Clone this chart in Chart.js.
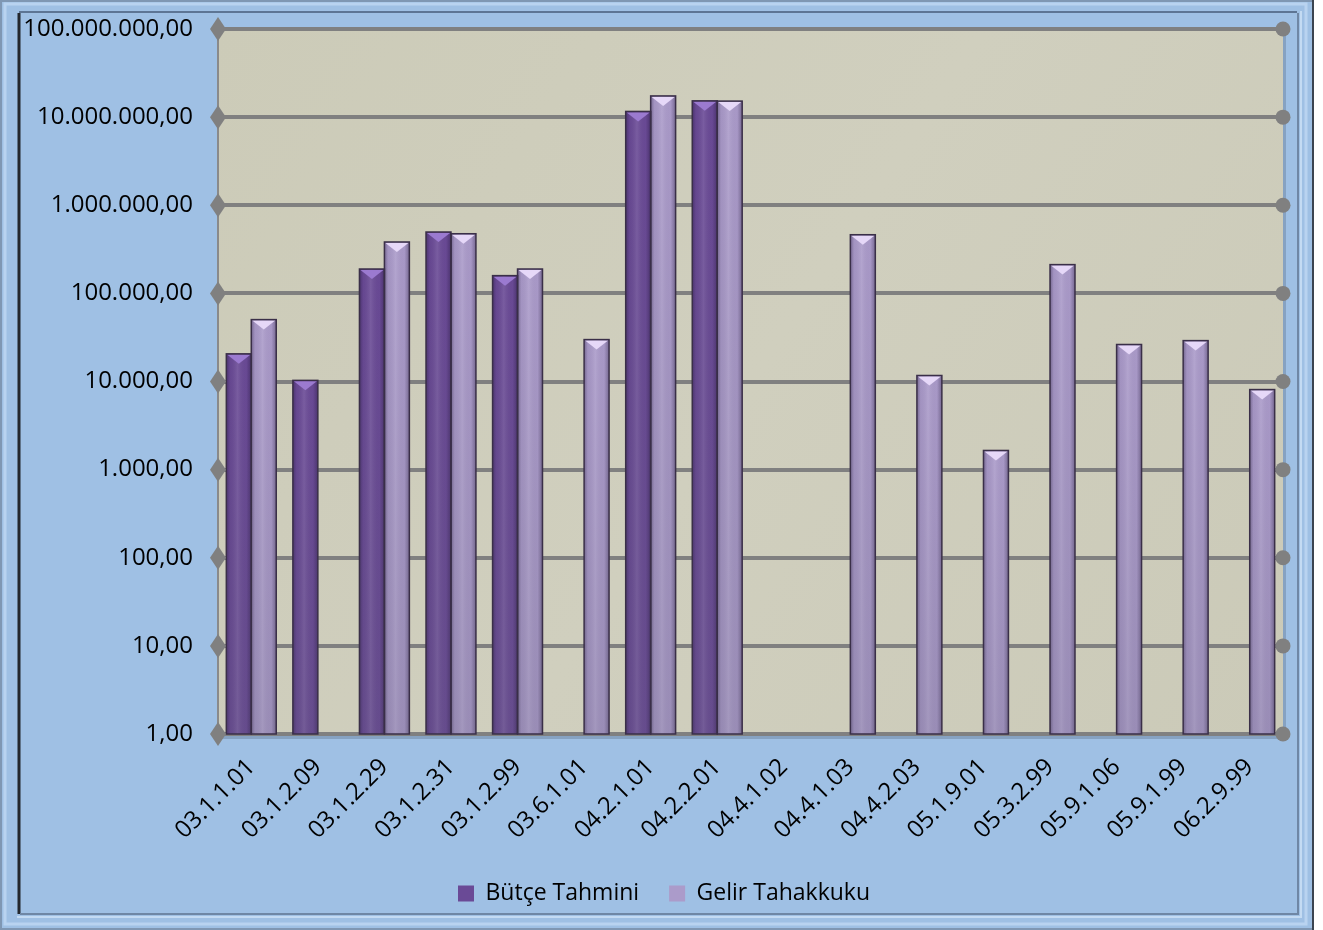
<!DOCTYPE html>
<html>
<head>
<meta charset="utf-8">
<title>Bütçe Tahmini / Gelir Tahakkuku</title>
<script src="https://cdn.jsdelivr.net/npm/chart.js@4.4.1/dist/chart.umd.min.js"></script>
<style>
  html, body { margin: 0; padding: 0; background: #ffffff; }
  #wrap { width: 1323px; height: 930px; }
</style>
</head>
<body>
<div id="wrap"><canvas id="gelirChart" width="1323" height="930"></canvas></div>
<script>
// Data
const categories = [
    '03.1.1.01', '03.1.2.09', '03.1.2.29', '03.1.2.31', '03.1.2.99', '03.6.1.01',
    '04.2.1.01', '04.2.2.01', '04.4.1.02', '04.4.1.03', '04.4.2.03', '05.1.9.01',
    '05.3.2.99', '05.9.1.06', '05.9.1.99', '06.2.9.99'
];
const budgetValues = [
    20600, 10300, 189000, 497000, 159000, null,
    11600000, 15300000, null, null, null, null,
    null, null, null, null
];
const accrualValues = [
    50400, null, 383000, 475000, 189000, 29900,
    17400000, 15200000, null, 463000, 11700, 1650,
    212000, 26300, 29100, 8100
];
const tickValues = [1, 10, 100, 1000, 10000, 100000, 1000000, 10000000, 100000000];
const tickLabels = [
    '1,00', '10,00', '100,00', '1.000,00', '10.000,00', '100.000,00',
    '1.000.000,00', '10.000.000,00', '100.000.000,00'
];

const FONT = "'Open Sans', 'Noto Sans', sans-serif";

// Blue chart area with bevelled frame + beige plot area
const backgroundPlugin = {
    id: 'chartBackground',
    afterLayout: function (chart) {
        // legend in the reference sits a bit right of the canvas centre
        chart.legend.left = 45;
    },
    beforeDraw: function (chart) {
        const c = chart.ctx;
        const a = chart.chartArea;
        c.save();
        c.fillStyle = '#ffffff';
        c.fillRect(0, 0, chart.width, chart.height);
        c.fillStyle = '#9fc0e4';
        c.fillRect(0, 0, 1314, 930);
        // outer edge
        c.strokeStyle = '#7f97b3';
        c.lineWidth = 2;
        c.strokeRect(1, 1, 1312, 928);
        c.strokeStyle = '#3b4450';
        c.beginPath();
        c.moveTo(1313, 0); c.lineTo(1313, 930);
        c.stroke();
        // inner bevel
        c.strokeStyle = '#b9d3f0';
        c.lineWidth = 3;
        c.strokeRect(5, 4, 1301, 920);
        c.strokeStyle = '#23272d';
        c.lineWidth = 3;
        c.beginPath();
        c.moveTo(19, 914); c.lineTo(19, 13);
        c.stroke();
        c.strokeStyle = '#5d7594';
        c.lineWidth = 2;
        c.beginPath();
        c.moveTo(19, 12); c.lineTo(1297, 12);
        c.stroke();
        c.strokeStyle = '#6f87a5';
        c.lineWidth = 2;
        c.beginPath();
        c.moveTo(20, 914); c.lineTo(1298, 914); c.lineTo(1298, 13);
        c.stroke();
        c.strokeStyle = '#c4dbf3';
        c.lineWidth = 2;
        c.beginPath();
        c.moveTo(17, 917); c.lineTo(1301, 917); c.lineTo(1301, 11);
        c.stroke();
        // plot shadow + beige plot area
        c.fillStyle = 'rgba(60, 70, 90, 0.25)';
        c.fillRect(a.left + 3, a.top + 3, a.right - a.left, a.bottom - a.top + 2);
        const g = c.createLinearGradient(a.left, a.top, a.right, a.bottom);
        g.addColorStop(0, '#cccbb8');
        g.addColorStop(0.5, '#d0cfbe');
        g.addColorStop(1, '#cbcab8');
        c.fillStyle = g;
        c.fillRect(a.left, a.top, a.right - a.left, a.bottom - a.top);
        c.restore();
    }
};

// Bevelled, shaded bars drawn on top of the library's bar elements
const barShadePlugin = {
    id: 'barShade',
    afterDatasetsDraw: function (chart) {
        const c = chart.ctx;
        chart.data.datasets.forEach(function (ds, i) {
            const meta = chart.getDatasetMeta(i);
            meta.data.forEach(function (bar, j) {
                if (ds.data[j] == null) return;
                const p = bar.getProps(['x', 'y', 'base', 'width'], true);
                const l = p.x - p.width / 2;
                const r = p.x + p.width / 2;
                const h = p.base - p.y;
                c.save();
                const g = c.createLinearGradient(l, 0, r, 0);
                g.addColorStop(0, 'rgba(20, 10, 40, 0.35)');
                g.addColorStop(0.15, 'rgba(20, 10, 40, 0.05)');
                g.addColorStop(0.45, 'rgba(255, 255, 255, 0.10)');
                g.addColorStop(0.8, 'rgba(20, 10, 40, 0.02)');
                g.addColorStop(1, 'rgba(20, 10, 40, 0.35)');
                c.fillStyle = g;
                c.fillRect(l, p.y, p.width, h);
                const v = c.createLinearGradient(0, p.y, 0, p.base);
                v.addColorStop(0, 'rgba(90, 90, 110, 0)');
                v.addColorStop(1, 'rgba(90, 90, 110, 0.18)');
                c.fillStyle = v;
                c.fillRect(l, p.y, p.width, h);
                // top bevel
                const d = Math.min(10, h / 2);
                c.fillStyle = ds.bevelColor;
                c.beginPath();
                c.moveTo(l + 1, p.y + 1);
                c.lineTo(r - 1, p.y + 1);
                c.lineTo(p.x, p.y + d);
                c.closePath();
                c.fill();
                c.strokeStyle = '#3a2f48';
                c.lineWidth = 1.5;
                c.strokeRect(l, p.y, p.width, h);
                c.restore();
            });
        });
    }
};

// Diamond markers on the left end and round markers on the right end of each gridline
const markerPlugin = {
    id: 'gridMarkers',
    afterDraw: function (chart) {
        const c = chart.ctx;
        const y = chart.scales.y;
        const a = chart.chartArea;
        c.save();
        c.fillStyle = '#808080';
        y.ticks.forEach(function (t) {
            const py = y.getPixelForValue(t.value);
            c.beginPath();
            c.moveTo(a.left - 8, py);
            c.lineTo(a.left, py - 12);
            c.lineTo(a.left + 8, py);
            c.lineTo(a.left, py + 12);
            c.closePath();
            c.fill();
            c.beginPath();
            c.arc(a.right, py, 7.5, 0, Math.PI * 2);
            c.fill();
        });
        c.restore();
    }
};

const ctx = document.getElementById('gelirChart');

const myChart = new Chart(ctx, {
    type: 'bar',
    data: {
        labels: categories,
        datasets: [{
            label: 'Bütçe Tahmini',
            data: budgetValues,
            backgroundColor: '#6a4a96',
            bevelColor: '#9b7ad0',
            borderColor: '#3a2f48',
            borderWidth: 0,
            barPercentage: 1,
            categoryPercentage: 0.75
        }, {
            label: 'Gelir Tahakkuku',
            data: accrualValues,
            backgroundColor: '#ab9bca',
            bevelColor: '#e6d8f8',
            borderColor: '#3a2f48',
            borderWidth: 0,
            barPercentage: 1,
            categoryPercentage: 0.75
        }]
    },
    options: {
        responsive: false,
        animation: false,
        layout: {
            padding: { left: 0, top: 29, right: 40, bottom: 15 }
        },
        scales: {
            x: {
                grid: { display: false },
                border: { display: true, color: '#808080', width: 3 },
                ticks: {
                    color: '#000000',
                    font: { family: FONT, size: 24 },
                    minRotation: 45,
                    maxRotation: 45,
                    padding: 11
                },
                afterFit: function (scale) { scale.height = 118; }
            },
            y: {
                type: 'logarithmic',
                min: 1,
                max: 100000000,
                grid: {
                    color: '#808080',
                    lineWidth: 4,
                    drawTicks: false
                },
                border: { display: true, color: '#8a8a8a', width: 2 },
                ticks: {
                    color: '#000000',
                    font: { family: FONT, size: 24 },
                    padding: 25,
                    callback: function (value) {
                        const k = tickValues.indexOf(value);
                        return k >= 0 ? tickLabels[k] : '';
                    }
                },
                afterBuildTicks: function (scale) {
                    scale.ticks = tickValues.map(function (v) { return { value: v }; });
                },
                afterFit: function (scale) {
                    scale.width = 218;
                    scale.paddingTop = 0;
                    scale.paddingBottom = 0;
                }
            }
        },
        plugins: {
            legend: {
                position: 'bottom',
                labels: {
                    color: '#000000',
                    font: { family: FONT, size: 23 },
                    boxWidth: 16,
                    boxHeight: 16,
                    padding: 30
                }
            },
            tooltip: { enabled: false }
        }
    },
    plugins: [backgroundPlugin, barShadePlugin, markerPlugin]
});
</script>
</body>
</html>
